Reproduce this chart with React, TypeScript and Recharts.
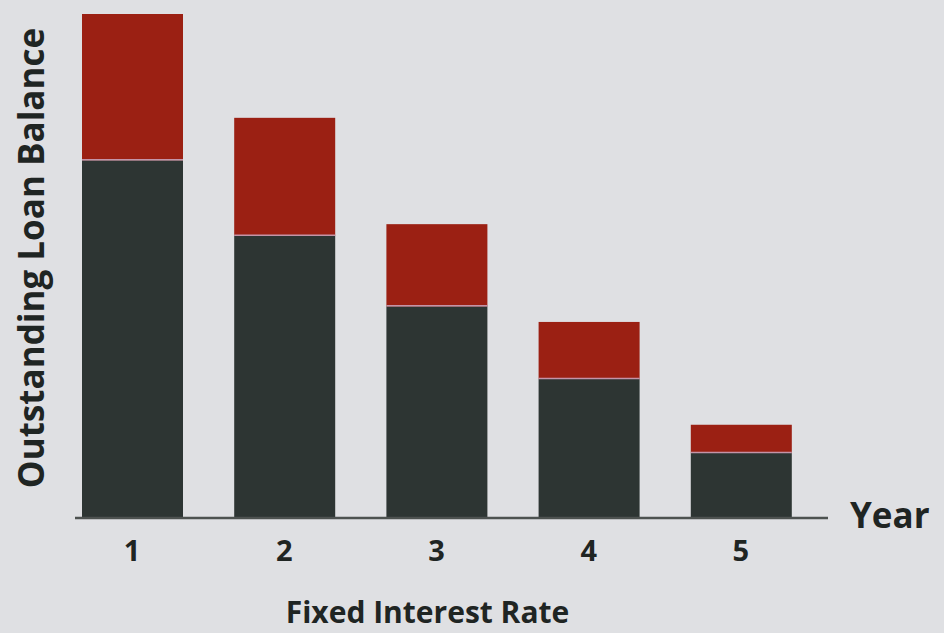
import { Bar, BarChart, Label, XAxis, YAxis } from 'recharts';

const years = ['1', '2', '3', '4', '5'];
const principal = [71, 56, 42, 27.6, 12.9];
const interest = [29, 23.4, 16.3, 11.3, 5.6];

const data = years.map((year, i) => ({ year, principal: principal[i], interest: interest[i] }));

const FONT = '"Open Sans", "Noto Sans", sans-serif';
const INK = '#1f2523';

function InterestShape(props: any) {
  const { x, y, width, height, fill } = props;
  return (
    <g>
      <rect x={x} y={y} width={width} height={height} fill={fill} />
      <line x1={x} x2={x + width} y1={y + height - 0.5} y2={y + height - 0.5} stroke="#c494a8" strokeWidth={1.5} />
    </g>
  );
}

export default function App() {
  return (
    <div style={{ position: 'absolute', left: 0, top: 0, width: 944, height: 633, background: '#dfe0e3' }}>
      <BarChart width={944} height={633} data={data} margin={{ top: 14, right: 116, bottom: 0, left: 0 }}>
        <YAxis
          width={75}
          domain={[0, 100]}
          tick={false}
          tickLine={false}
          axisLine={false}
        >
          <Label
            content={({ viewBox }: any) => (
              <text
                x={viewBox.x + 30}
                y={viewBox.y + viewBox.height / 2 - 8}
                transform={`rotate(-90 ${viewBox.x + 30} ${viewBox.y + viewBox.height / 2 - 8})`}
                textAnchor="middle"
                dominantBaseline="central"
                fontFamily={FONT}
                fontWeight={700}
                fontSize={35}
                fill={INK}
              >
                Outstanding Loan Balance
              </text>
            )}
          />
        </YAxis>
        <XAxis
          dataKey="year"
          height={115}
          padding={{ left: -19, right: 11 }}
          axisLine={{ stroke: '#4d5250', strokeWidth: 2.5 }}
          tickLine={false}
          tickSize={0}
          tickMargin={22}
          tick={{ fontFamily: FONT, fontWeight: 700, fontSize: 29, fill: INK }}
        >
          <Label
            content={({ viewBox }: any) => (
              <text
                x={viewBox.x + viewBox.width / 2 - 24}
                y={viewBox.y + 105}
                textAnchor="middle"
                fontFamily={FONT}
                fontWeight={700}
                fontSize={30}
                fill={INK}
              >
                Fixed Interest Rate
              </text>
            )}
          />
          <Label
            content={({ viewBox }: any) => (
              <text
                x={viewBox.x + viewBox.width + 22}
                y={viewBox.y + 10}
                textAnchor="start"
                fontFamily={FONT}
                fontWeight={700}
                fontSize={35}
                fill={INK}
              >
                Year
              </text>
            )}
          />
        </XAxis>
        <Bar dataKey="principal" stackId="a" fill="#2d3533" barSize={101} isAnimationActive={false} />
        <Bar
          dataKey="interest"
          stackId="a"
          fill="#9b2013"
          barSize={101}
          shape={InterestShape}
          isAnimationActive={false}
        />
      </BarChart>
    </div>
  );
}
